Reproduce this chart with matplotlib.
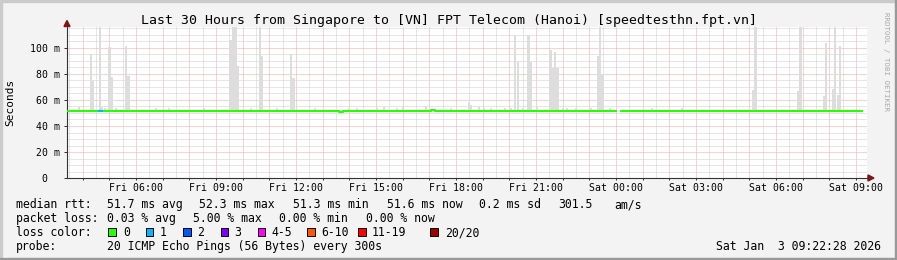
import numpy as np
import matplotlib
matplotlib.use('Agg')
import matplotlib.pyplot as plt
from matplotlib.patches import Rectangle, Polygon
from matplotlib.ticker import FixedLocator, FixedFormatter, MultipleLocator

# ---------------- data ----------------
title = "Last 30 Hours from Singapore to [VN] FPT Telecom (Hanoi) [speedtesthn.fpt.vn]"
tick_hours = [6, 9, 12, 15, 18, 21, 24, 27, 30, 33]
tick_labels = ["Fri 06:00", "Fri 09:00", "Fri 12:00", "Fri 15:00", "Fri 18:00",
               "Fri 21:00", "Sat 00:00", "Sat 03:00", "Sat 06:00", "Sat 09:00"]
y_ticks = [0, 20, 40, 60, 80, 100]
y_labels = ["0  ", "20 m", "40 m", "60 m", "80 m", "100 m"]

# time window (hours since Fri 00:00)
t_start, t_end = 3.4125, 33.4125

# smoke (ping spread) spikes: slot start time (h), top value (ms)
smoke_t = [4.275, 4.357, 4.594, 4.676, 4.961, 5.036, 5.588, 5.674,
           9.499, 9.600, 9.686, 9.776, 10.601, 10.688, 11.775, 11.861,
           20.175, 20.276, 20.680, 20.760, 21.499, 21.589, 21.675, 21.761,
           23.276, 23.362, 23.449, 29.100, 29.186, 30.799, 30.874,
           31.751, 31.838, 32.089, 32.175, 32.276, 32.362]
smoke_top = [95, 75, 125, 55, 101, 78, 101.5, 78.5,
             106, 125, 125, 86, 125, 94, 95, 77,
             110, 89.5, 110, 89.5, 98.5, 85, 96.7, 85,
             94, 125, 80, 68, 125, 67, 125,
             63, 104, 68.5, 125, 64, 101.5]
# small smoke just above the median
small_t = [3.825, 4.8, 5.213, 6.712, 7.2, 8.513, 10.275, 11.25, 12.675, 13.95,
           14.25, 15.0, 15.263, 15.75, 15.975, 16.838, 17.775, 18.45, 18.525,
           18.825, 19.013, 19.275, 19.8, 20.025, 20.475, 21.0, 21.975, 22.125,
           22.463, 23.025, 23.738, 25.313, 26.438]
small_top = [54.5, 54, 53.5, 54, 53.5, 53.5, 53.5, 53.5, 54, 54,
             54, 54, 55, 54, 54.5, 55.5, 54, 58.5, 56,
             54.5, 54, 53.8, 53.5, 53.5, 53.8, 54.6, 53.8, 53.8,
             53.5, 54, 53.5, 53.5, 54]
smoke_floor = 51.2
step_h = 5 / 60

# median rtt (step function) and loss count per segment
median_t = [3.4125, 4.583, 4.75, 13.61, 13.76, 17.06, 17.21, 24.03, 24.16, 33.25]
median_v = [51.8, 51.8, 51.8, 51.0, 51.8, 52.5, 51.8, np.nan, 51.8, 51.8]
median_loss = [0, 1, 0, 0, 0, 0, 0, 0, 0, 0]

loss_labels = ["0", "1", "2", "3", "4-5", "6-10", "11-19", "20/20"]
loss_colors = ["#26ff00", "#00b8ff", "#0059ff", "#7e00ff", "#ff00ff", "#ff5500", "#ff0000", "#a10000"]

stats_rtt = ["51.7 ms avg", "52.3 ms max", "51.3 ms min", "51.6 ms now", "0.2 ms sd", "301.5", "am/s"]
stats_loss = ["0.03 % avg", "5.00 % max", "0.00 % min", "0.00 % now"]
probe_text = "20 ICMP Echo Pings (56 Bytes) every 300s"
stamp_text = "Sat Jan  3 09:22:28 2026"

# ---------------- figure ----------------
W, H = 897, 260
BG = '#F3F3F3'
MONO = 'DejaVu Sans Mono'
fig = plt.figure(figsize=(W / 100, H / 100), dpi=100, facecolor=BG)

def fx(px):
    return px / W

def fy(py):
    return 1 - py / H

YMAX = (178 - 27) / 1.3
ax = fig.add_axes([fx(67), fy(178), 800 / W, (178 - 27) / H])
ax.set_facecolor('white')
ax.set_xlim(t_start, t_end)
ax.set_ylim(0, YMAX)

# grid
ax.xaxis.set_major_locator(MultipleLocator(1))
ax.xaxis.set_minor_locator(MultipleLocator(0.5))
ax.yaxis.set_major_locator(MultipleLocator(20))
ax.yaxis.set_minor_locator(MultipleLocator(5))
ax.grid(which='minor', color='#CFCFCF', lw=0.72, linestyle=(0, (1, 1)))
ax.grid(which='major', color='#F4A6A6', lw=0.72, linestyle=(0, (1, 1)))
ax.set_axisbelow(True)

# tick labels
major_x = np.arange(4, 34)
lab_map = dict(zip(tick_hours, tick_labels))
ax.xaxis.set_major_locator(FixedLocator(major_x))
ax.xaxis.set_major_formatter(FixedFormatter([lab_map.get(int(h), "") for h in major_x]))
ax.yaxis.set_major_locator(FixedLocator(y_ticks))
ax.yaxis.set_major_formatter(FixedFormatter(y_labels))
# extra major y grid line at 120 is outside; fine
ax.tick_params(axis='x', which='major', direction='out', length=1.5, width=0.72,
               color='#333333', pad=2.2, labelsize=7.1)
ax.tick_params(axis='y', which='major', direction='out', length=2.5, width=0.72,
               color='#333333', pad=2.6, labelsize=7.1)
ax.tick_params(which='minor', length=0)
for lab in ax.get_xticklabels() + ax.get_yticklabels():
    lab.set_fontfamily(MONO)

for s in ['top', 'right']:
    ax.spines[s].set_visible(False)
for s in ['left', 'bottom']:
    ax.spines[s].set_color('#333333')
    ax.spines[s].set_linewidth(0.8)

# smoke
ax.bar(smoke_t, np.array(smoke_top) - smoke_floor, bottom=smoke_floor, width=step_h,
       align='edge', color='#DDDDDD', linewidth=0, zorder=2)
ax.bar(small_t, np.array(small_top) - smoke_floor, bottom=smoke_floor, width=step_h,
       align='edge', color='#DDDDDD', linewidth=0, zorder=2)

# median line
ax.step(median_t, median_v, where='post', color=loss_colors[0], lw=1.5,
        solid_capstyle='butt', zorder=3)
for i in range(len(median_t) - 1):
    if median_loss[i] > 0 and not np.isnan(median_v[i]):
        ax.hlines(median_v[i], median_t[i], median_t[i + 1],
                  color=loss_colors[median_loss[i]], lw=1.5, zorder=4)

# axis arrows
fig.patches.append(Polygon([(fx(64), fy(26.5)), (fx(70), fy(26.5)), (fx(67), fy(20.5))],
                           closed=True, transform=fig.transFigure, color='#7F1515'))
fig.patches.append(Polygon([(fx(868), fy(175)), (fx(868), fy(181)), (fx(874), fy(178))],
                           closed=True, transform=fig.transFigure, color='#7F1515'))
# x axis extension to arrow
fig.add_artist(plt.Line2D([fx(867), fx(868)], [fy(178), fy(178)], color='#333333', lw=0.8))

# frame shading
fig.patches.append(Rectangle((0, fy(2)), 1, fy(0) - fy(2), transform=fig.transFigure, color='#CBCBCB'))
fig.patches.append(Rectangle((0, 0), fx(2), 1, transform=fig.transFigure, color='#CBCBCB'))
fig.patches.append(Rectangle((0, 0), 1, 2 / H, transform=fig.transFigure, color='#999999'))
fig.patches.append(Rectangle((fx(895), 0), 2 / W, 1, transform=fig.transFigure, color='#999999'))

# title, labels
fig.text(fx(448.5), fy(24), title, family=MONO, fontsize=9.5, ha='center', va='baseline')
fig.text(fx(10), fy(102.7), "Seconds", family=MONO, fontsize=8, rotation=90,
         ha='center', va='center')
fig.text(fx(885.5), fy(61.7), "RRDTOOL / TOBI OETIKER", family=MONO, fontsize=5.4,
         rotation=270, ha='center', va='center', color='#AAAAAA')

# legend
LFS = 8.3
def lt(x, y, s, **kw):
    fig.text(fx(x), fy(y), s, family=MONO, fontsize=LFS, ha='left', va='baseline', **kw)

lt(16, 208, "median rtt:")
for x, s in zip([107.3, 198.7, 293, 386.7, 479.3, 558.3, 614], stats_rtt):
    lt(x, 208, s)
lt(16, 222, "packet loss:")
for x, s in zip([107.3, 193.3, 279.3, 365.7], stats_loss):
    lt(x, 222, s)
lt(16, 236, "loss color:")
box_x = [108.3, 145.7, 183.3, 220.7, 257.7, 307.3, 358.3, 430]
lab_x = [123.3, 160, 197.3, 234.3, 271.7, 321.7, 371.7, 445]
for bx, lx, c, s in zip(box_x, lab_x, loss_colors, loss_labels):
    fig.patches.append(Rectangle((fx(bx), fy(236)), 7.5 / W, 8.5 / H, transform=fig.transFigure,
                                 facecolor=c, edgecolor='black', lw=0.7))
    lt(lx, 236, s)
lt(16, 250, "probe:")
lt(107.3, 250, probe_text)
fig.text(fx(880.7), fy(250), stamp_text, family=MONO, fontsize=LFS, ha='right', va='baseline')

fig.savefig('out.png', dpi=100, facecolor=BG)
